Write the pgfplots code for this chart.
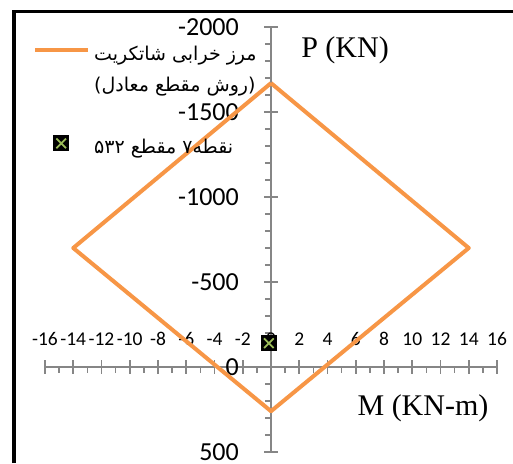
\documentclass[border=0pt]{standalone}
\usepackage{pgfplots}
\pgfplotsset{compat=1.18}
\usepackage{fontspec}
\setmainfont{Carlito}
\newfontfamily\arabicfont[Script=Arabic]{DejaVu Sans}
\newfontfamily\timesfont{Liberation Serif}
\TeXXeTstate=1

\definecolor{excelorange}{RGB}{247,150,70}
\definecolor{xgreen}{RGB}{155,187,89}
\definecolor{axisgray}{RGB}{134,134,134}

% black box with a green cross
\pgfdeclareplotmark{boxx}{%
  \pgfpathrectangle{\pgfqpoint{-\pgfplotmarksize}{-\pgfplotmarksize}}{\pgfqpoint{2\pgfplotmarksize}{2\pgfplotmarksize}}%
  \pgfsetfillcolor{black}\pgfusepathqfill
  \pgfsetstrokecolor{xgreen}\pgfsetlinewidth{1.8pt}%
  \pgfpathmoveto{\pgfqpoint{-0.6\pgfplotmarksize}{-0.6\pgfplotmarksize}}%
  \pgfpathlineto{\pgfqpoint{0.6\pgfplotmarksize}{0.6\pgfplotmarksize}}%
  \pgfpathmoveto{\pgfqpoint{-0.6\pgfplotmarksize}{0.6\pgfplotmarksize}}%
  \pgfpathlineto{\pgfqpoint{0.6\pgfplotmarksize}{-0.6\pgfplotmarksize}}%
  \pgfusepathqstroke}

\pgfplotsset{
    longline legend/.style={legend image code/.code={\draw[##1] (0pt,0pt) -- (53pt,0pt);}},
    box legend/.style={legend image code/.code={\draw[##1] plot coordinates {(26pt,0pt)};}},
}
\newcommand{\rowstrut}{\rule[-9pt]{0pt}{30pt}}

\begin{document}
\begin{tikzpicture}
\useasboundingbox (0pt,0pt) rectangle (513pt,463pt);
\begin{axis}[
    at={(45pt,11pt)}, anchor=south west,
    scale only axis, width=452pt, height=425pt,
    xmin=-16, xmax=16, ymin=-2000, ymax=500,
    y dir=reverse,
    axis lines=middle,
    axis line style={axisgray, line width=2pt, -},
    xtick distance=2, ytick distance=500,
    minor x tick num=1, minor y tick num=4,
    tick align=center,
    major tick length=14pt, minor tick length=6pt,
    tick style={axisgray, line width=1.6pt},
    minor x tick style={yshift=-3pt},
    minor y tick style={xshift=-3pt},
    hide obscured x ticks=false, hide obscured y ticks=false,
    scaled ticks=false,
    /pgf/number format/1000 sep={},
    /pgf/number format/assume math mode=true,
    xticklabel style={font=\fontsize{19.5}{20}\selectfont, anchor=center, yshift=35pt, inner sep=0pt},
    yticklabel style={font=\fontsize{26}{26}\selectfont, anchor=east, xshift=-25pt, inner sep=0pt},
    xlabel={M (KN-m)}, ylabel={P (KN)},
    xlabel style={at={(axis cs:10.76,241)}, anchor=center, font=\timesfont\fontsize{30}{30}\selectfont},
    ylabel style={at={(axis cs:5.24,-1865)}, anchor=center, rotate=0, font=\timesfont\fontsize{30}{30}\selectfont},
    legend cell align=left,
    legend style={draw=none, fill=none, at={(axis cs:-16.85,-1930)}, anchor=north west,
        inner sep=0pt, column sep=4pt, row sep=8.5pt, nodes={inner sep=0pt},
        font=\arabicfont\fontsize{19}{22}\selectfont},
]
\addplot[excelorange, line width=4pt, line join=round, longline legend]
    coordinates {(0,-1670) (14,-700) (0,260) (-14,-700) (0,-1670)};
\addlegendentry{\rowstrut\beginR مرز خرابی شاتکریت\endR}
\addlegendimage{empty legend}
\addlegendentry{\rowstrut)\beginR روش مقطع معادل\endR(}
\addlegendimage{empty legend}
\addlegendentry{\rowstrut}
\addplot[only marks, mark=boxx, mark size=8pt, box legend]
    coordinates {(-0.15,-140)};
\addlegendentry{\rowstrut\beginR نقطه۷ مقطع \beginL۵۳۲\endL\endR}
\end{axis}
\draw[line width=3.3pt] (14pt,0pt) -- (14pt,451.3pt) -- (513pt,451.3pt);
\end{tikzpicture}
\end{document}
